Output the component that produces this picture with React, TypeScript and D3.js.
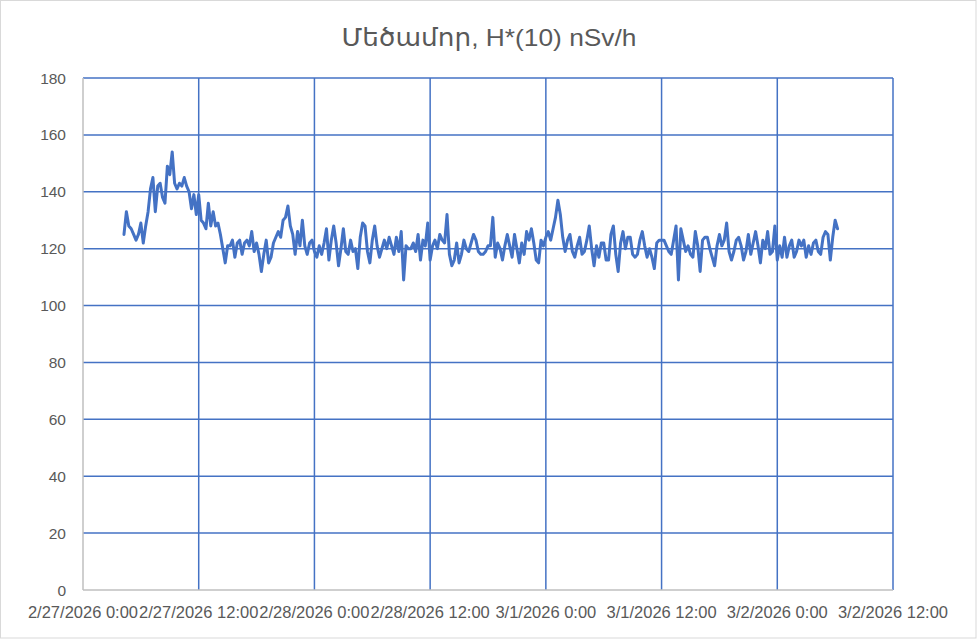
import React from 'react';
import * as d3 from 'd3';

const TITLE = 'Մեծամոր, H*(10) nSv/h';

const yTickValues = [0, 20, 40, 60, 80, 100, 120, 140, 160, 180];

// 15-minute readings, grouped by half-day
const seg0227am = [125,133,128,127,125,123,125,129,122,128,133,141,145,133,142,143,138,136,149,146,154,143,141,143,142,145,142,140,134,139,132];
const seg0227pm = [139,130,129,127,136,128,133,128,129,125,120,115,121,121,123,117,122,123,118,122,123,121,126,119,122,118,112,118,123,115,117,122,124,126,124,130,131,135,128,125,118,126,121,130,121,118,122,123];
const seg0228am = [119,117,121,118,122,127,116,123,128,122,114,120,127,119,118,123,119,120,113,124,129,128,119,115,123,128,121,117,120,123,120,124,121,118,124,119,126,109,121,120,120,122,119,125,116,123,121,129];
const seg0228pm = [116,121,123,120,125,123,122,132,118,114,116,122,115,118,123,120,119,122,125,123,119,118,118,119,121,121,131,117,122,120,116,121,125,121,117,125,120,115,122,118,126,123,127,122,116,115,123,121];
const seg0301am = [124,126,123,127,131,137,132,124,119,123,125,119,117,121,124,118,119,123,128,120,114,121,117,122,122,116,116,125,128,118,112,122,126,120,124,124,118,117,118,123,126,121,117,120,117,113,122,123];
const seg0301pm = [123,123,121,119,118,123,128,109,127,123,119,121,118,117,126,121,112,123,124,124,120,117,114,121,125,121,123,129,119,116,119,123,124,121,116,119,125,118,122,126,121,115,123,120,126,118,119,128];
const seg0302am = [116,121,117,124,117,121,123,117,119,123,121,123,117,121,118,122,123,119,118,124,126,125,116,124,130,127];

const segments: { start: Date; values: number[] }[] = [
  { start: new Date(2026, 1, 27, 4, 15), values: seg0227am },
  { start: new Date(2026, 1, 27, 12, 0), values: seg0227pm },
  { start: new Date(2026, 1, 28, 0, 0), values: seg0228am },
  { start: new Date(2026, 1, 28, 12, 0), values: seg0228pm },
  { start: new Date(2026, 2, 1, 0, 0), values: seg0301am },
  { start: new Date(2026, 2, 1, 12, 0), values: seg0301pm },
  { start: new Date(2026, 2, 2, 0, 0), values: seg0302am },
];

const xDomain: [Date, Date] = [new Date(2026, 1, 27, 0, 0), new Date(2026, 2, 2, 12, 0)];

const fmt = (d: Date) =>
  `${d.getMonth() + 1}/${d.getDate()}/${d.getFullYear()} ${d.getHours()}:${String(d.getMinutes()).padStart(2, '0')}`;

export default function App() {
  const W = 977, H = 639;
  const left = 83, right = 893, top = 78, bottom = 590;
  const x = d3.scaleTime().domain(xDomain).range([left, right]);
  const y = d3.scaleLinear().domain([0, 180]).range([bottom, top]);
  const xTicks = x.ticks(d3.timeHour.every(12) as any);

  const data: { t: Date; v: number }[] = [];
  segments.forEach(s => {
    s.values.forEach((v, i) => {
      data.push({ t: new Date(s.start.getTime() + i * 15 * 60000), v });
    });
  });

  const line = d3.line<{ t: Date; v: number }>()
    .x(d => x(d.t))
    .y(d => y(d.v));

  const blue = '#4472C4';
  const font = '"Liberation Sans", "DejaVu Sans", Arial, sans-serif';

  return (
    <svg width={W} height={H} style={{ position: 'absolute', left: 0, top: 0, background: '#fff' }}>
      <rect x={0.5} y={0.5} width={W - 1.5} height={H - 1.5} fill="#fff" stroke="#d9d9d9" strokeWidth={1} />
      <text x={489} y={46} textAnchor="middle" fontFamily={font} fontSize={24} fill="#595959"
        textLength={295} lengthAdjust="spacingAndGlyphs">{TITLE}</text>

      {yTickValues.filter(v => v > 0).map(v => (
        <line key={'h' + v} x1={left} x2={right} y1={y(v)} y2={y(v)} stroke={blue} strokeWidth={1.5} />
      ))}
      {xTicks.filter((_, i) => i > 0).map((d, i) => (
        <line key={'v' + i} x1={x(d)} x2={x(d)} y1={top} y2={bottom} stroke={blue} strokeWidth={1.5} />
      ))}
      <line x1={left} x2={left} y1={top} y2={bottom} stroke="#bfbfbf" strokeWidth={1.5} />
      <line x1={left} x2={right} y1={bottom} y2={bottom} stroke="#bfbfbf" strokeWidth={1.5} />

      {yTickValues.map(v => (
        <text key={'yl' + v} x={66} y={y(v) + 5.5} textAnchor="end" fontFamily={font} fontSize={15.5} fill="#595959">{v}</text>
      ))}
      {xTicks.map((d, i) => (
        <text key={'xl' + i} x={x(d)} y={618} textAnchor="middle" fontFamily={font} fontSize={16.5} fill="#595959">{fmt(d)}</text>
      ))}

      <path d={line(data) || ''} fill="none" stroke={blue} strokeWidth={3} strokeLinejoin="round" strokeLinecap="round" />
    </svg>
  );
}
